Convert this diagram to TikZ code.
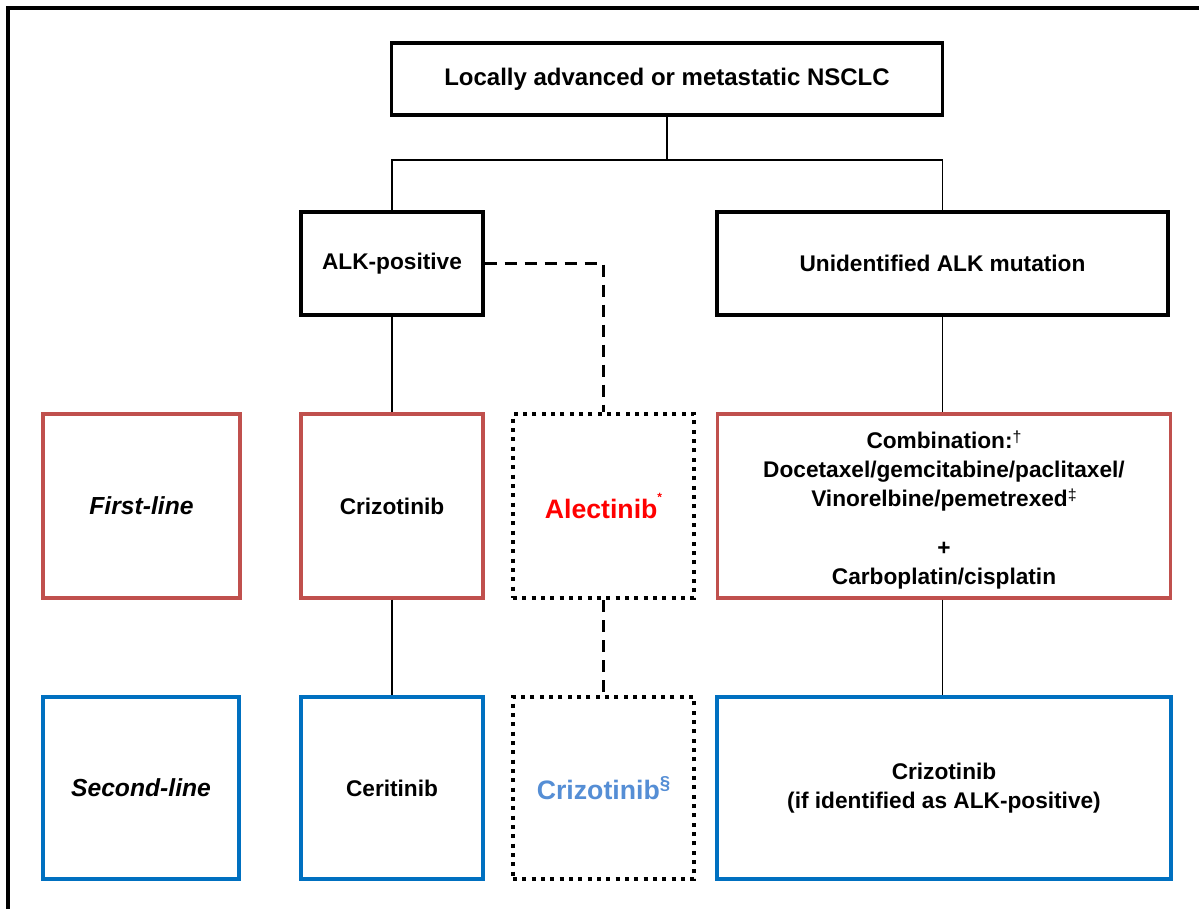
\documentclass[tikz,border=0pt]{standalone}
\usepackage{fontspec}
\setmainfont{Liberation Sans}
\definecolor{boxred}{HTML}{C0504D}
\definecolor{boxblue}{HTML}{0070C0}
\definecolor{alecred}{HTML}{FF0000}
\definecolor{lightblue}{HTML}{558ED5}
\begin{document}
\begin{tikzpicture}[x=0.75pt,y=-0.75pt,
  every node/.style={inner sep=0pt, align=center, font=\bfseries\fontsize{17}{22}\selectfont},
  blackbox/.style={draw=black, line width=2.3pt},
  redbox/.style={draw=boxred, line width=2.3pt},
  bluebox/.style={draw=boxblue, line width=2.3pt},
  dotbox/.style={draw=black, line width=3pt, dash pattern=on 3pt off 4pt},
  link/.style={draw=black, line width=1.1pt},
  dashlink/.style={draw=black, line width=1.9pt, dash pattern=on 9pt off 6pt},
  sz/.style n args={2}{minimum width=#1*0.75pt, minimum height=#2*0.75pt}
]
\useasboundingbox (0,0) rectangle (1199,909);
\fill[white] (0,0) rectangle (1199,909);
% outer frame (only left and top visible)
\draw[line width=2.3pt] (8,909) -- (8,8) -- (1199,8);

% boxes
\node[blackbox, sz={551}{72}, font=\bfseries\fontsize{18}{21}\selectfont] (top) at (667,79) {Locally advanced or metastatic NSCLC};
\node[blackbox, sz={182}{103}] (alk) at (392,263.5) {ALK-positive};
\node[blackbox, sz={451}{103}] (unid) at (942.5,263.5) {Unidentified ALK mutation};

\node[redbox, sz={197}{184}, font=\bfseries\itshape\fontsize{18.5}{21}\selectfont] (first) at (141.5,506) {First-line};
\node[redbox, sz={182}{184}] (criz1) at (392,506) {Crizotinib};
\node[dotbox, sz={181}{184}] (alec) at (603.5,506) {\color{alecred}\fontsize{20}{22}\selectfont Alectinib\raisebox{1.2ex}{\fontsize{9}{9}\selectfont *}};
\node[redbox, sz={453}{184}] (comb) at (944,506) {};
\node[text width=440*0.75pt, font=\bfseries\fontsize{17}{22}\selectfont] (combtext) at (944,510) {%
Combination:\raisebox{0.5ex}{\fontsize{12}{12}\selectfont\mdseries\textdagger}\\
Docetaxel/gemcitabine/paclitaxel/\\
Vinorelbine/pemetrexed\raisebox{0.5ex}{\fontsize{12}{12}\selectfont\mdseries\textdaggerdbl}\\[14.5pt]
+\\
Carboplatin/cisplatin};

\node[bluebox, sz={196}{182}, font=\bfseries\itshape\fontsize{18.5}{21}\selectfont] (second) at (141,788) {Second-line};
\node[bluebox, sz={182}{182}] (ceri) at (392,788) {Ceritinib};
\node[dotbox, sz={181}{182}] (criz2) at (603.5,788) {\color{lightblue}\fontsize{20}{22}\selectfont Crizotinib\raisebox{0.7ex}{\fontsize{14}{14}\selectfont §}};
\node[bluebox, sz={454}{182}] (right2) at (944,788) {Crizotinib\\(if identified as ALK-positive)};

% connectors
\coordinate (split) at (667,160);
\draw[link] (top.south) -- (split);
\draw[link] (alk.north) |- (split) -| (unid.north);
\draw[link] (alk.south) -- (criz1.north);
\draw[link] (criz1.south) -- (ceri.north);
\draw[link] (unid.south) -- (unid.south |- comb.north);
\draw[link] (comb.south -| unid.south) -- (unid.south |- right2.north);
\draw[dashlink] (alk.east) -| (alec.north);
\draw[dashlink] (alec.south) -- (criz2.north);
\end{tikzpicture}
\end{document}
